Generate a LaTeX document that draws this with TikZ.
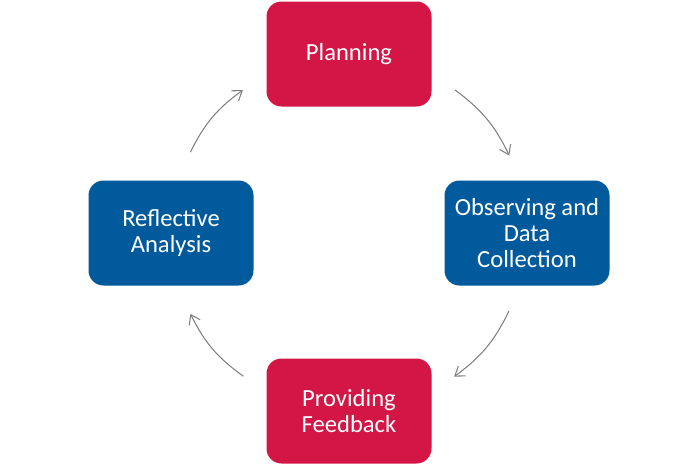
\documentclass[tikz,border=0pt]{standalone}
\usepackage{fontspec}
\setmainfont{Carlito}
\usetikzlibrary{arrows.meta, positioning, calc}
\definecolor{cycred}{HTML}{D31645}
\definecolor{cycblue}{HTML}{005A9C}
\definecolor{cycgray}{HTML}{808080}

\begin{document}
\begin{tikzpicture}[
    box/.style={draw=none, rectangle, rounded corners=0.3cm, text=white, align=center, minimum width=3.3cm, minimum height=2.1cm, font=\fontsize{14}{15}\selectfont},
    redbox/.style={box, fill=cycred},
    bluebox/.style={box, fill=cycblue},
    arrow/.style={-{Straight Barb[length=5pt,width=7pt]}, draw=cycgray, line width=0.6pt}
]
\useasboundingbox (0,0) rectangle (14,9.34);
\coordinate (mid) at (6.98,4.68);

% The four steps
\node[redbox] (plan) at (6.98,8.26) {Planning};
\node[bluebox] (observe) at (10.54,4.68) {Observing and\\Data\\Collection};
\node[redbox] (feedback) at (6.98,1.12) {Providing\\Feedback};
\node[bluebox] (reflect) at (3.42,4.68) {Reflective\\Analysis};

% Points on the cycle
\coordinate (p1) at ($(mid)+(53.5:3.56)$);
\coordinate (p2) at ($(mid)+(25.8:3.56)$);
\coordinate (p3) at ($(mid)+(-26:3.56)$);
\coordinate (p4) at ($(mid)+(-53.8:3.56)$);
\coordinate (p5) at ($(mid)+(233.6:3.56)$);
\coordinate (p6) at ($(mid)+(207:3.56)$);
\coordinate (p7) at ($(mid)+(153:3.56)$);
\coordinate (p8) at ($(mid)+(126.6:3.56)$);

\draw[arrow] (p1) to[bend left=14] (p2);
\draw[arrow] (p3) to[bend left=14] (p4);
\draw[arrow] (p5) to[bend left=14] (p6);
\draw[arrow] (p7) to[bend left=14] (p8);
\end{tikzpicture}
\end{document}
